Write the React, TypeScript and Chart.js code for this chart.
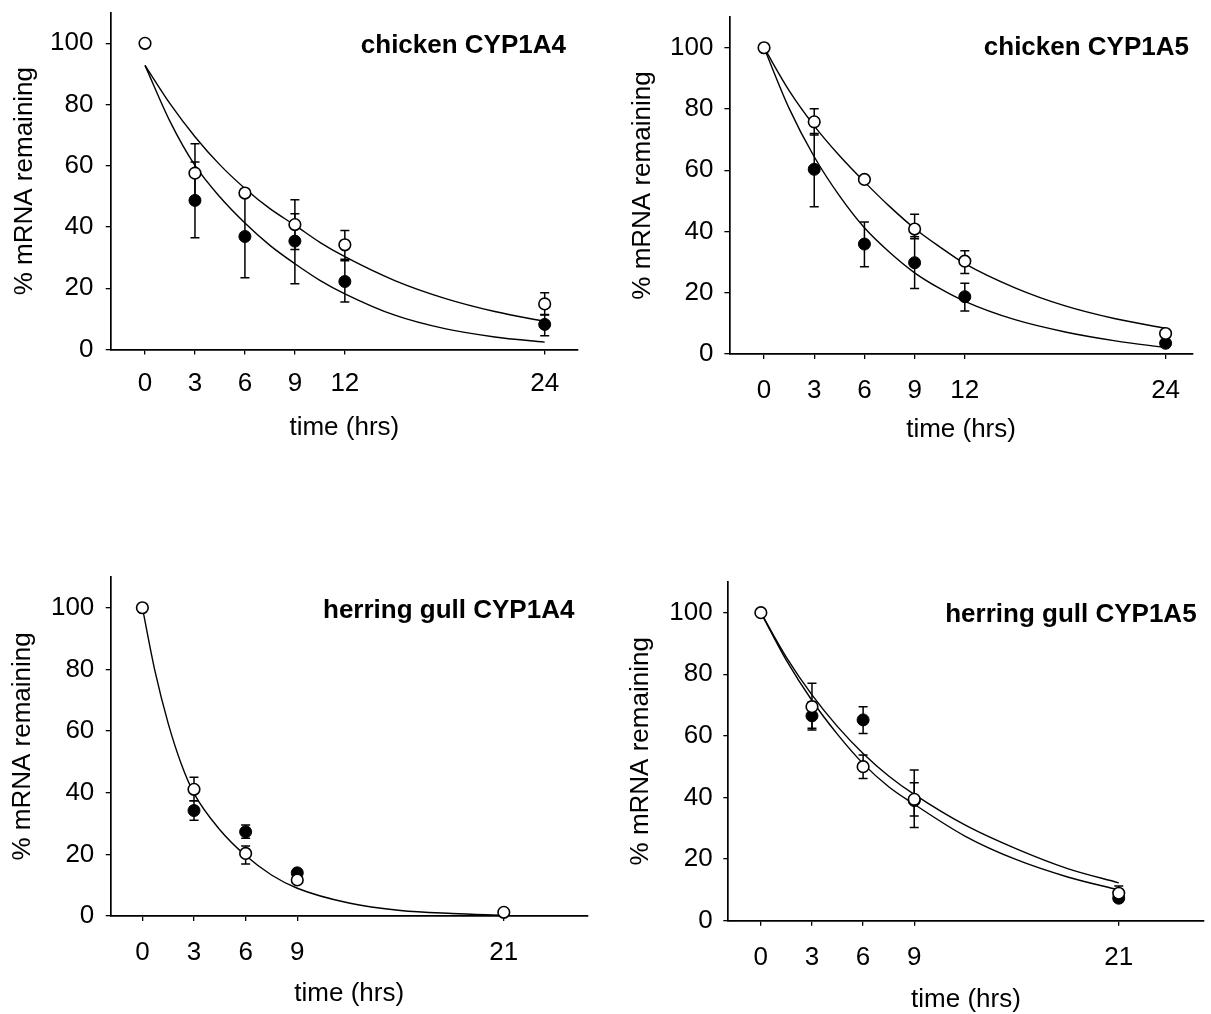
import React, { useEffect, useRef } from 'react';
import { Chart, registerables } from 'chart.js';

Chart.register(...registerables);

// ---------------- DATA ----------------
const yTickValues = [0, 20, 40, 60, 80, 100];

// chicken CYP1A4
const c4Times = [0, 3, 6, 9, 12, 24];
const c4Open = [100, 57.6, 51.1, 40.8, 34.2, 14.9];
const c4OpenLo = [null, 48.0, null, 32.7, 29.5, 11.3];
const c4OpenHi = [null, 67.2, null, 48.9, 38.9, 18.5];
const c4Filled = [null, 48.7, 36.9, 35.4, 22.2, 8.2];
const c4FilledLo = [null, 36.5, 23.4, 21.5, 15.5, 4.5];
const c4FilledHi = [null, 61.2, 50.4, 44.3, 29.0, 11.4];
const c4FitX = [0, 1.5, 3, 4.5, 6, 7.5, 9, 10.5, 12, 15, 18, 21, 24];
const c4FitOpen = [92.8, 80.3, 69.5, 60.3, 52.6, 46.0, 40.6, 35.0, 30.3, 22.5, 16.7, 12.4, 9.2];
const c4FitFilled = [92.8, 74.5, 60.1, 49.8, 41.3, 34.0, 28.0, 22.6, 18.2, 11.2, 6.8, 4.1, 2.4];
const c4XTicks = [0, 3, 6, 9, 12, 24];

// chicken CYP1A5
const c5Times = [0, 3, 6, 9, 12, 24];
const c5Open = [100, 75.8, 57.0, 40.8, 30.3, 6.7];
const c5OpenLo = [null, 71.5, null, 37.6, 26.3, null];
const c5OpenHi = [null, 80.1, null, 45.6, 33.7, null];
const c5Filled = [null, 60.3, 35.9, 29.8, 18.7, 3.5];
const c5FilledLo = [null, 48.1, 28.5, 21.4, 14.0, null];
const c5FilledHi = [null, 72.0, 43.1, 38.3, 23.1, null];
const c5FitX = [0, 1.5, 3, 4.5, 6, 7.5, 9, 10.5, 12, 15, 18, 21, 24];
const c5FitOpen = [100, 86.0, 74.5, 64.8, 56.2, 48.2, 41.0, 35.0, 29.5, 21.6, 15.7, 11.5, 8.4];
const c5FitFilled = [100, 80.2, 64.4, 51.7, 41.2, 33.2, 26.5, 21.4, 17.2, 11.2, 7.2, 4.3, 2.1];
const c5XTicks = [0, 3, 6, 9, 12, 24];

// herring gull CYP1A4
const g4Times = [0, 3, 6, 9, 21];
const g4Open = [100, 41.1, 20.3, 11.7, 1.2];
const g4OpenLo = [null, 37.4, 16.9, null, null];
const g4OpenHi = [null, 45.0, 22.7, null, null];
const g4Filled = [null, 34.2, 27.3, 14.0, null];
const g4FilledLo = [null, 31.1, 25.2, null, null];
const g4FilledHi = [null, 37.4, 29.5, null, null];
const g4FitX = [0, 0.75, 1.5, 2.25, 3, 4.5, 6, 7.5, 9, 12, 15, 18, 21];
const g4Fit = [100, 79.0, 62.5, 49.5, 39.8, 28.0, 19.6, 13.3, 9.0, 4.2, 1.8, 0.8, 0.2];
const g4XTicks = [0, 3, 6, 9, 21];

// herring gull CYP1A5
const g5Times = [0, 3, 6, 9, 21];
const g5Open = [100, 69.5, 50.0, 39.4, 8.9];
const g5OpenLo = [null, 62.5, 46.2, 30.3, null];
const g5OpenHi = [null, 77.1, 53.8, 48.9, 11.3];
const g5Filled = [null, 66.5, 65.2, 39.0, 7.3];
const g5FilledLo = [null, 61.9, 60.8, 34.0, 6.0];
const g5FilledHi = [null, 71.0, 69.5, 44.8, null];
const g5FitX = [0, 1.5, 3, 4.5, 6, 7.5, 9, 12, 15, 18, 21];
const g5FitOpen = [100, 85.5, 73.3, 63.0, 54.3, 47.0, 41.0, 31.0, 23.3, 16.9, 12.3];
const g5FitFilled = [100, 84.5, 71.5, 60.5, 51.0, 43.5, 37.8, 27.4, 19.8, 14.2, 10.0];
const g5XTicks = [0, 3, 6, 9, 21];

const panelTitles = ['chicken CYP1A4', 'chicken CYP1A5', 'herring gull CYP1A4', 'herring gull CYP1A5'];
const xAxisTitle = 'time (hrs)';
const yAxisTitle = '% mRNA remaining';

// ---------------- LAYOUT ----------------
type Num = number | null;
interface PanelSpec {
  title: string;
  times: number[];
  open: Num[]; openLo: Num[]; openHi: Num[];
  filled: Num[]; filledLo: Num[]; filledHi: Num[];
  fitX: number[]; fits: number[][];
  xTicks: number[];
  box: { left: number; top: number; width: number; height: number };
  axisX: number; plotRight: number; plotTop: number; plotBottom: number;
  xMin: number; xMax: number;
  xLabelY: number; xTitleY: number; yLabelRight: number; yTitleX: number;
  titleRight: number; titleBase: number;
}

const FONT = "'Liberation Sans', Arial, Helvetica, sans-serif";
const TICK_LEN = 5;
const TICK_FONT = 26;
const TITLE_FONT = 26;

const panels: PanelSpec[] = [
  {
    title: panelTitles[0], times: c4Times,
    open: c4Open, openLo: c4OpenLo, openHi: c4OpenHi,
    filled: c4Filled, filledLo: c4FilledLo, filledHi: c4FilledHi,
    fitX: c4FitX, fits: [c4FitOpen, c4FitFilled], xTicks: c4XTicks,
    box: { left: 0, top: 0, width: 600, height: 460 },
    axisX: 110.7, plotRight: 578, plotTop: 12.7, plotBottom: 349.5,
    xMin: -2.06, xMax: 26,
    xLabelY: 384, xTitleY: 427.5, yLabelRight: 93.5, yTitleX: 24.5,
    titleRight: 566, titleBase: 53.3,
  },
  {
    title: panelTitles[1], times: c5Times,
    open: c5Open, openLo: c5OpenLo, openHi: c5OpenHi,
    filled: c5Filled, filledLo: c5FilledLo, filledHi: c5FilledHi,
    fitX: c5FitX, fits: [c5FitOpen, c5FitFilled], xTicks: c5XTicks,
    box: { left: 611, top: 0, width: 600, height: 460 },
    axisX: 729.4, plotRight: 1192.7, plotTop: 17.1, plotBottom: 354,
    xMin: -2.07, xMax: 25.62,
    xLabelY: 391, xTitleY: 430, yLabelRight: 713.5, yTitleX: 642.8,
    titleRight: 1189, titleBase: 55,
  },
  {
    title: panelTitles[2], times: g4Times,
    open: g4Open, openLo: g4OpenLo, openHi: g4OpenHi,
    filled: g4Filled, filledLo: g4FilledLo, filledHi: g4FilledHi,
    fitX: g4FitX, fits: [g4Fit], xTicks: g4XTicks,
    box: { left: 0, top: 560, width: 600, height: 454 },
    axisX: 110.7, plotRight: 587.8, plotTop: 576.9, plotBottom: 916,
    xMin: -1.84, xMax: 25.88,
    xLabelY: 953.3, xTitleY: 994, yLabelRight: 94.3, yTitleX: 23,
    titleRight: 574.4, titleBase: 618.3,
  },
  {
    title: panelTitles[3], times: g5Times,
    open: g5Open, openLo: g5OpenLo, openHi: g5OpenHi,
    filled: g5Filled, filledLo: g5FilledLo, filledHi: g5FilledHi,
    fitX: g5FitX, fits: [g5FitOpen, g5FitFilled], xTicks: g5XTicks,
    box: { left: 611, top: 560, width: 600, height: 454 },
    axisX: 728.3, plotRight: 1209.4, plotTop: 581.9, plotBottom: 920.7,
    xMin: -1.91, xMax: 25.98,
    xLabelY: 957.5, xTitleY: 1000, yLabelRight: 712.7, yTitleX: 640.8,
    titleRight: 1196.6, titleBase: 621.7,
  },
];

function toPoints(xs: number[], ys: Num[]) {
  const out: { x: number; y: number }[] = [];
  xs.forEach((x, i) => {
    const y = ys[i];
    if (y !== null && y !== undefined) out.push({ x, y });
  });
  return out;
}

function makeConfig(p: PanelSpec): any {
  const L = p.box.left, T = p.box.top, W = p.box.width, H = p.box.height;
  const yScaleWidth = p.axisX - L;
  const xScaleHeight = T + H - p.plotBottom;
  const xTickPad = p.xLabelY - p.plotBottom - TICK_LEN - TICK_FONT / 2;
  const yTickPad = p.axisX - p.yLabelRight - TICK_LEN;
  const xTitlePad = T + H - p.xTitleY - TITLE_FONT / 2;
  const yTitlePad = p.yTitleX - L - TITLE_FONT / 2;

  const bars = [
    { xs: p.times, ys: p.open, lo: p.openLo, hi: p.openHi },
    { xs: p.times, ys: p.filled, lo: p.filledLo, hi: p.filledHi },
  ];

  const errorBarPlugin = {
    id: 'errorBars',
    beforeDatasetsDraw(chart: any) {
      const { ctx, scales } = chart;
      const xs = scales.x, ys = scales.y;
      ctx.save();
      ctx.strokeStyle = '#000';
      ctx.lineWidth = 1.5;
      const cap = 4.5;
      for (const b of bars) {
        b.xs.forEach((xv, i) => {
          const lo = b.lo[i], hi = b.hi[i], yv = b.ys[i];
          if ((lo === null && hi === null) || yv === null) return;
          const px = xs.getPixelForValue(xv);
          const pTop = ys.getPixelForValue(hi !== null ? hi : yv);
          const pBot = ys.getPixelForValue(lo !== null ? lo : yv);
          ctx.beginPath();
          ctx.moveTo(px, pTop);
          ctx.lineTo(px, pBot);
          if (hi !== null) { ctx.moveTo(px - cap, pTop); ctx.lineTo(px + cap, pTop); }
          if (lo !== null) { ctx.moveTo(px - cap, pBot); ctx.lineTo(px + cap, pBot); }
          ctx.stroke();
        });
      }
      ctx.restore();
    },
  };

  const titlePlugin = {
    id: 'panelTitle',
    afterDraw(chart: any) {
      const { ctx } = chart;
      ctx.save();
      ctx.font = `bold ${TITLE_FONT}px ${FONT}`;
      ctx.fillStyle = '#000';
      ctx.textAlign = 'right';
      ctx.textBaseline = 'alphabetic';
      ctx.fillText(p.title, p.titleRight - L, p.titleBase - T);
      ctx.restore();
    },
  };

  const datasets: any[] = [
    {
      label: 'open',
      data: toPoints(p.times, p.open),
      pointRadius: 5.8,
      pointBackgroundColor: '#fff',
      pointBorderColor: '#000',
      pointBorderWidth: 1.6,
      showLine: false,
      clip: false,
    },
    {
      label: 'filled',
      data: toPoints(p.times, p.filled),
      pointRadius: 6,
      pointBackgroundColor: '#000',
      pointBorderColor: '#000',
      pointBorderWidth: 1,
      showLine: false,
      clip: false,
    },
    ...p.fits.map((f, k) => ({
      label: 'fit' + k,
      data: toPoints(p.fitX, f),
      showLine: true,
      pointRadius: 0,
      borderColor: '#000',
      borderWidth: 1.4,
      cubicInterpolationMode: 'monotone',
      fill: false,
      clip: false,
    })),
  ];

  return {
    type: 'scatter',
    data: { datasets },
    plugins: [errorBarPlugin, titlePlugin],
    options: {
      animation: false,
      responsive: false,
      devicePixelRatio: 1,
      layout: {
        padding: { left: 0, top: p.plotTop - T, right: L + W - p.plotRight, bottom: 0 },
      },
      plugins: { legend: { display: false }, tooltip: { enabled: false }, title: { display: false } },
      scales: {
        x: {
          type: 'linear',
          min: p.xMin,
          max: p.xMax,
          afterBuildTicks: (s: any) => { s.ticks = p.xTicks.map((v) => ({ value: v })); },
          afterFit: (s: any) => {
            s.height = xScaleHeight;
            s.paddingLeft = 0; s.paddingRight = 0; s.paddingTop = 0; s.paddingBottom = 0;
          },
          grid: { display: true, drawOnChartArea: false, drawTicks: true, tickLength: TICK_LEN, color: '#000', lineWidth: 1.3 },
          border: { display: true, color: '#000', width: 1.7 },
          ticks: {
            color: '#000', autoSkip: false, maxRotation: 0, minRotation: 0,
            padding: xTickPad,
            font: { family: FONT, size: TICK_FONT, lineHeight: 1 },
          },
          title: {
            display: true, text: xAxisTitle, color: '#000',
            font: { family: FONT, size: TITLE_FONT, lineHeight: 1 },
            padding: { top: 0, bottom: xTitlePad },
          },
        },
        y: {
          type: 'linear',
          min: 0,
          max: 110,
          afterBuildTicks: (s: any) => { s.ticks = yTickValues.map((v) => ({ value: v })); },
          afterFit: (s: any) => {
            s.width = yScaleWidth;
            s.paddingLeft = 0; s.paddingRight = 0; s.paddingTop = 0; s.paddingBottom = 0;
          },
          grid: { display: true, drawOnChartArea: false, drawTicks: true, tickLength: TICK_LEN, color: '#000', lineWidth: 1.3 },
          border: { display: true, color: '#000', width: 1.7 },
          ticks: {
            color: '#000',
            padding: yTickPad,
            font: { family: FONT, size: TICK_FONT, lineHeight: 1 },
          },
          title: {
            display: true, text: yAxisTitle, color: '#000',
            font: { family: FONT, size: TITLE_FONT, lineHeight: 1 },
            padding: { top: yTitlePad, bottom: 0 },
          },
        },
      },
    },
  };
}

function Panel({ spec }: { spec: PanelSpec }) {
  const ref = useRef<HTMLCanvasElement | null>(null);
  useEffect(() => {
    if (!ref.current) return;
    const chart = new Chart(ref.current, makeConfig(spec));
    return () => chart.destroy();
  }, [spec]);
  const b = spec.box;
  return (
    <div style={{ position: 'absolute', left: b.left, top: b.top, width: b.width, height: b.height }}>
      <canvas ref={ref} width={b.width} height={b.height} style={{ width: b.width, height: b.height, display: 'block' }} />
    </div>
  );
}

export default function App() {
  return (
    <div style={{ position: 'absolute', left: 0, top: 0, width: 1211, height: 1014, background: '#fff', overflow: 'hidden' }}>
      {panels.map((p, i) => (
        <Panel key={i} spec={p} />
      ))}
    </div>
  );
}
